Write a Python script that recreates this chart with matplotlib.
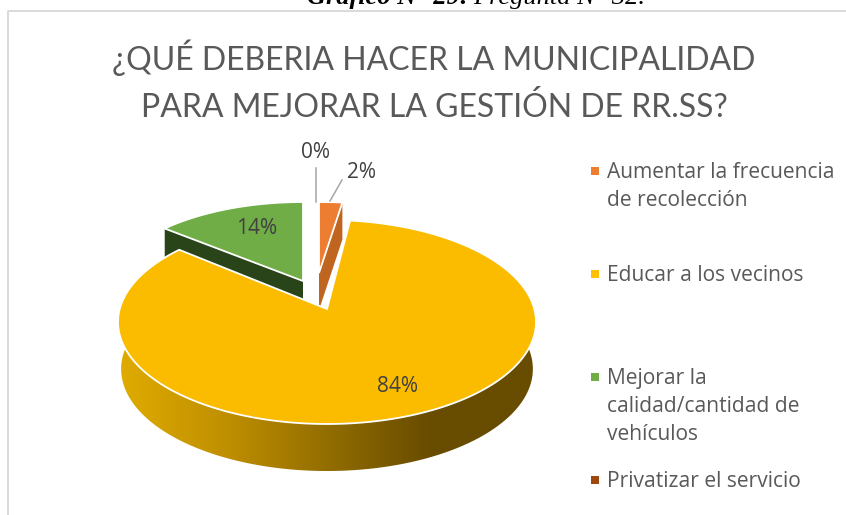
import numpy as np
import matplotlib
matplotlib.use("Agg")
import matplotlib.pyplot as plt
from matplotlib.patches import Polygon

# data
categories = ["Aumentar la frecuencia\nde recolección", "Educar a los vecinos",
              "Mejorar la\ncalidad/cantidad de\nvehículos", "Privatizar el servicio"]
percent = [2, 84, 14, 0]
title_lines = ["¿QUÉ DEBERIA HACER LA MUNICIPALIDAD", "PARA MEJORAR LA GESTIÓN DE RR.SS?"]

top_colors = ["#ED7D31", "#FBBC00", "#70AD47", "#9E480E"]
side_colors = ["#C0651F", None, "#2A441A", None]
legend_colors = ["#ED7D31", "#FFC000", "#70AD47", "#9E480E"]

# perspective of the tilted pie, in pixels
K = 0.127
apex = {0: (319, 273), 1: (327, 309), 2: (303, 281)}
sx = {0: 210, 1: 207.3, 2: 194}
sy = {0: 80, 1: 100.4, 2: 89}
wall_depth = {0: 37, 2: 30}
DEPTH = 47


def project(deg, i, dy=0, shrink=1.0):
    t = np.radians(deg)
    X, Y = np.sin(t), np.cos(t)
    d = 1 + K * Y
    return apex[i][0] + sx[i] * shrink * X / d, apex[i][1] - sy[i] * Y / d + dy


def slice_points(i, a0, a1):
    th = np.linspace(a0, a1, 200)
    x, y = project(th, i)
    return np.vstack([[apex[i]], np.column_stack([x, y])])


fig = plt.figure(figsize=(8.46, 5.15), dpi=100)
ax = fig.add_axes([0, 0, 1, 1])
ax.set_xlim(0, 846)
ax.set_ylim(515, 0)
ax.axis("off")

# frame and the cut caption above it
ax.plot([8, 8, 846], [515, 11, 11], color="#D9D9D9", lw=1.4, zorder=1)
ax.text(388, 4, "Gráfico N° 29:", family="Liberation Serif", style="italic", weight="bold",
        fontsize=19, ha="center", va="baseline", color="black")
ax.text(559, 4, "Pregunta N° 32.", family="Liberation Serif", style="italic",
        fontsize=19, ha="center", va="baseline", color="black")

for n, line in enumerate(title_lines):
    ax.text(434, 70 + n * 47, line, family="Lato", fontsize=23, color="#595959",
            ha="center", va="baseline")

# slice angles come from the values, clockwise from the top
edges = np.concatenate([[0], np.cumsum(percent)]) * 3.6

# side walls of the small slices first, yellow covers them
for i in [0, 2]:
    a = edges[i + 1] if i == 0 else edges[i]
    rx, ry = project(a, i)
    ax_x, ax_y = apex[i]
    dep = wall_depth[i]
    wall = [(ax_x, ax_y), (rx, ry), (rx, ry + dep), (ax_x, ax_y + dep)]
    ax.add_patch(Polygon(wall, closed=True, fc=side_colors[i], ec="none", zorder=2))

# rim of the big slice with its left to right shading
th = np.linspace(70, 295, 300)
x0, y0 = project(th, 1)
x1, y1 = project(th, 1, dy=DEPTH, shrink=0.985)
rim = Polygon(np.vstack([np.column_stack([x1, y1]), np.column_stack([x0, y0])[::-1]]),
              closed=True, fc="none", ec="none", zorder=3)
ax.add_patch(rim)
stops_x = [118, 230, 330, 430, 536]
stops_rgb = np.array([[224, 172, 0], [190, 142, 0], [145, 108, 0], [104, 76, 0], [104, 76, 0]]) / 255
grid_x = np.linspace(118, 536, 420)
shade = np.stack([np.interp(grid_x, stops_x, stops_rgb[:, c]) for c in range(3)], axis=-1)[None, :, :]
im = ax.imshow(shade, extent=[118, 536, 480, 300], aspect="auto", zorder=3)
im.set_clip_path(rim)
ax.set_xlim(0, 846)
ax.set_ylim(515, 0)

# top faces
for i in [0, 1, 2]:
    ax.add_patch(Polygon(slice_points(i, edges[i], edges[i + 1]), closed=True,
                         fc=top_colors[i], ec="white", lw=1.3, joinstyle="miter", zorder=4))

# data labels
label_pos = [(361, 173), (397, 386), (257, 228), (315, 153)]
for i, (lx, ly) in enumerate(label_pos):
    ax.text(lx, ly, f"{percent[i]}%", family="Open Sans", fontsize=15, color="#404040",
            ha="center", va="center", zorder=6)
ax.plot([316, 316], [168, 202], color="#A6A6A6", lw=1.1, zorder=5)
ax.plot([342, 330], [180, 201], color="#A6A6A6", lw=1.1, zorder=5)

# legend
legend_y = [171, 274, 377, 480]
for c, name, ly in zip(legend_colors, categories, legend_y):
    ax.scatter([594.5], [ly], marker="s", s=33, color=c, linewidths=0, zorder=6)
    ax.text(607, ly - 9, name, family="Open Sans", fontsize=15.1, color="#595959",
            ha="left", va="top", linespacing=1.45)

fig.savefig("out.png", dpi=100)
